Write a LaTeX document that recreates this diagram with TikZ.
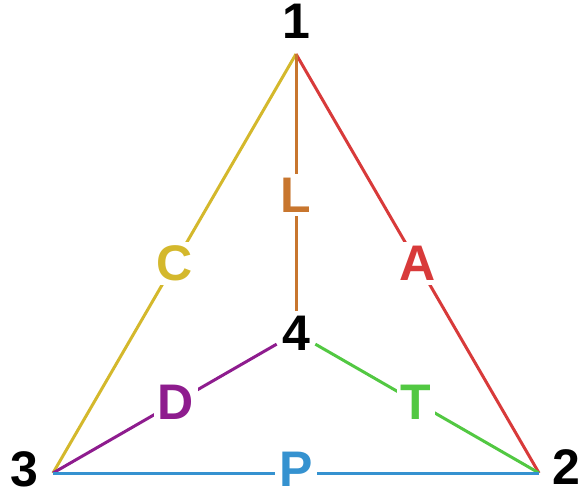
\documentclass[tikz,border=0pt]{standalone}
\usepackage{fontspec}
\setmainfont{Liberation Sans}
\definecolor{colC}{HTML}{D4B82C}
\definecolor{colL}{HTML}{C8762E}
\definecolor{colA}{HTML}{D83A3A}
\definecolor{colD}{HTML}{8E1C8E}
\definecolor{colT}{HTML}{52C842}
\definecolor{colP}{HTML}{3592D0}
\begin{document}
\begin{tikzpicture}[x=1pt,y=-1pt,
  vlabel/.style={font=\fontsize{50}{60}\selectfont\bfseries, text=black, inner sep=0pt},
  elabel/.style={font=\fontsize{50}{60}\selectfont\bfseries, fill=white, inner sep=4pt},
  edgeline/.style={line width=3pt}]
\useasboundingbox (0,0) rectangle (579,498);
\coordinate (v1) at (296,54);
\coordinate (v2) at (539,473);
\coordinate (v3) at (53,473);
\node[vlabel, circle, minimum size=44pt] (v4) at (296,333) {4};
\node[vlabel] (n1) at (296,21) {1};
\node[vlabel] (n2) at (566,467) {2};
\node[vlabel] (n3) at (24,469) {3};
\draw[edgeline, colC] (v1) -- node[elabel, text=colC] (lC) {C} (v3);
\draw[edgeline, colA] (v1) -- node[elabel, text=colA] (lA) {A} (v2);
\draw[edgeline, colL] (v1) -- node[elabel, text=colL, pos=0.55] (lL) {L} (v4);
\draw[edgeline, colD] (v3) -- node[elabel, text=colD, pos=0.55] (lD) {D} (v4);
\draw[edgeline, colT] (v2) -- node[elabel, text=colT, pos=0.55] (lT) {T} (v4);
\draw[edgeline, colP] (v3) -- node[elabel, text=colP, yshift=4pt] (lP) {P} (v2);
\end{tikzpicture}
\end{document}
